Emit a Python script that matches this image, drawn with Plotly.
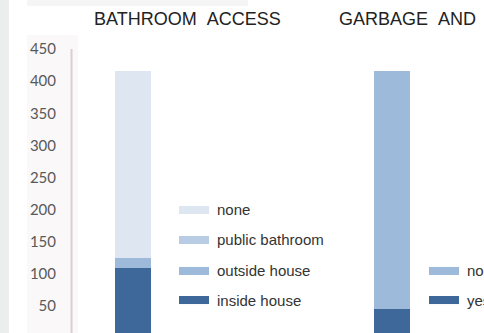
import plotly.graph_objects as go

# Bathroom access (stack order bottom -> top)
bath_labels = ["inside house", "outside house", "public bathroom", "none"]
bath_values = [109, 16, 0, 291]
bath_colors = ["#3e6899", "#9dbadb", "#b8cce4", "#dde6f1"]

# Garbage service (stack order bottom -> top)
garb_labels = ["yes", "no"]
garb_values = [45, 371]
garb_colors = ["#3e6899", "#9dbadb"]

titles = ["BATHROOM\u00a0\u00a0ACCESS", "GARBAGE\u00a0\u00a0AND"]
y_ticks = [0, 50, 100, 150, 200, 250, 300, 350, 400, 450]

BAR_W = 0.139
fig = go.Figure()
for lab, val, col in zip(bath_labels, bath_values, bath_colors):
    fig.add_trace(go.Bar(x=[0], y=[val], name=lab, width=BAR_W,
                         marker=dict(color=col, line=dict(width=0)),
                         showlegend=False))
for lab, val, col in zip(garb_labels, garb_values, garb_colors):
    fig.add_trace(go.Bar(x=[1], y=[val], name=lab, width=BAR_W,
                         marker=dict(color=col, line=dict(width=0)),
                         showlegend=False))

shapes = [
    # grey strip on the far left
    dict(type="rect", xref="paper", yref="paper", x0=-0.172, x1=-0.150,
         y0=0, y1=1.12, fillcolor="#eceeed", line=dict(width=0), layer="below"),
    # faint strip along the top
    dict(type="rect", xref="paper", yref="paper", x0=-0.1065, x1=0.4286,
         y0=1.097, y1=1.12, fillcolor="#f5f5f5", line=dict(width=0), layer="below"),
    # tinted band behind the tick labels
    dict(type="rect", xref="paper", yref="paper", x0=-0.1065, x1=0.017,
         y0=0, y1=1.0, fillcolor="#faf8f8", line=dict(width=0), layer="below"),
    # vertical axis line
    dict(type="line", xref="paper", yref="paper", x0=0.0012, x1=0.0012,
         y0=0, y1=0.953, line=dict(color="#d9cfcf", width=2)),
]

annotations = [
    dict(text=titles[0], xref="paper", yref="paper", x=0.2809, y=1.054,
         xanchor="center", yanchor="middle", showarrow=False,
         font=dict(family="Liberation Sans, Arial", size=18, color="#222222")),
    dict(text=titles[1], xref="paper", yref="paper", x=0.644, y=1.054,
         xanchor="left", yanchor="middle", showarrow=False,
         font=dict(family="Liberation Sans, Arial", size=18, color="#222222")),
]

SW_H = 0.0135


def add_legend(labels, colors, x0, x1, xt, rows):
    for lab, col, yy in zip(labels, colors, rows):
        shapes.append(dict(type="rect", xref="paper", yref="paper",
                           x0=x0, x1=x1, y0=yy - SW_H, y1=yy + SW_H,
                           fillcolor=col, line=dict(width=0)))
        annotations.append(dict(text=lab, xref="paper", yref="paper", x=xt, y=yy,
                                xanchor="left", yanchor="middle", showarrow=False,
                                font=dict(family="Liberation Sans, Arial", size=15,
                                          color="#333333")))


# legend rows listed top -> bottom
add_legend(bath_labels[::-1], bath_colors[::-1], 0.2615, 0.3341, 0.349,
           [0.4128, 0.3121, 0.2081, 0.1107])
add_legend(garb_labels[::-1], garb_colors[::-1], 0.8668, 0.9395, 0.954,
           [0.2081, 0.1107])

fig.update_layout(
    width=484, height=333,
    margin=dict(l=71, r=0, t=35, b=0),
    barmode="stack",
    paper_bgcolor="white", plot_bgcolor="white",
    shapes=shapes, annotations=annotations,
    xaxis=dict(range=[-0.2394, 1.355], visible=False),
    yaxis=dict(range=[7.8, 472], tickvals=y_ticks, showgrid=False,
               zeroline=False, showline=False, ticks="",
               ticklabelstandoff=14,
               tickfont=dict(family="Lato", size=15, color="#595959")),
)

fig.write_html("out.html")
